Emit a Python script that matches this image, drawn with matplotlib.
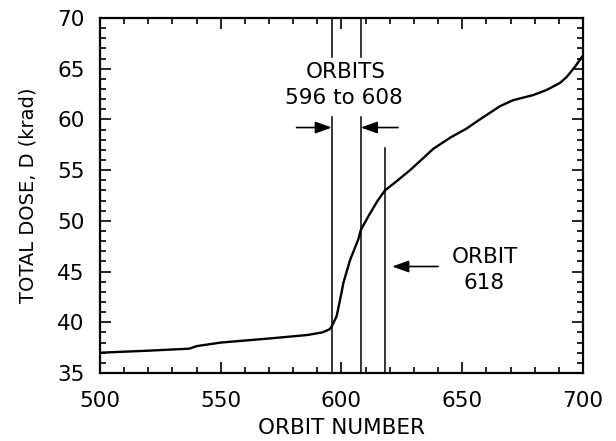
import matplotlib
matplotlib.use("Agg")
import matplotlib.pyplot as plt
from matplotlib.ticker import MultipleLocator

plt.rcParams['font.family'] = ['DejaVu Sans']

orbit = [500, 520, 537, 540, 550, 570, 586, 592, 595, 596, 598, 600, 600.8,
         603.5, 607, 608, 611.5, 615, 618, 622.8, 628.4, 633, 638, 645,
         651.8, 657.3, 665.6, 671.1, 679.4, 684.9, 690.5, 693.3, 696.7, 698.8, 700]
dose = [37.0, 37.2, 37.4, 37.65, 38.0, 38.4, 38.75, 39.0, 39.3, 39.6, 40.6, 42.9, 43.9,
        46.1, 48.2, 49.1, 50.6, 52.0, 53.0, 53.9, 55.0, 56.0, 57.1, 58.2,
        59.1, 60.0, 61.3, 61.9, 62.4, 62.9, 63.6, 64.2, 65.2, 65.9, 66.3]

band_orbits = [596, 608]
single_orbit = 618

fig = plt.figure(figsize=(6.16, 4.41), dpi=100)
ax = fig.add_axes([0.1623, 0.1542, 0.7841, 0.805])

ax.plot(orbit, dose, color='black', lw=1.7)

for xo in band_orbits:
    ax.plot([xo, xo], [35, 60.2], color='black', lw=1.1)
    ax.plot([xo, xo], [66.2, 70], color='black', lw=1.1)
ax.plot([single_orbit, single_orbit], [35, 57.2], color='black', lw=1.1)

akw = dict(arrowstyle='-|>,head_length=1.0,head_width=0.36', color='black', lw=1.2,
           shrinkA=0, shrinkB=0)
ax.annotate('', xy=(band_orbits[0], 59.2), xytext=(581.4, 59.2), arrowprops=akw)
ax.annotate('', xy=(band_orbits[1], 59.2), xytext=(623.4, 59.2), arrowprops=akw)
ax.annotate('', xy=(621, 45.5), xytext=(640, 45.5), arrowprops=akw)

tkw = dict(ha='center', va='center', fontsize=15.5)
ax.text(601.7, 64.65, 'ORBITS', **tkw)
ax.text(601.0, 62.1, '596 to 608', **tkw)
ax.text(659.4, 46.47, 'ORBIT', **tkw)
ax.text(659.0, 43.9, '618', **tkw)

ax.set_xlim(500, 700)
ax.set_ylim(35, 70)
ax.xaxis.set_major_locator(MultipleLocator(50))
ax.xaxis.set_minor_locator(MultipleLocator(10))
ax.yaxis.set_major_locator(MultipleLocator(5))
ax.yaxis.set_minor_locator(MultipleLocator(1))
ax.tick_params(which='both', direction='in', top=True, right=True, width=1.2)
ax.tick_params(which='major', length=8, labelsize=15.5)
ax.tick_params(which='minor', length=4)
ax.tick_params(axis='x', which='major', pad=13)
ax.tick_params(axis='y', which='major', pad=11)
for s in ax.spines.values():
    s.set_linewidth(1.6)

ax.set_xlabel('ORBIT NUMBER', fontsize=15.5, labelpad=5)
ax.set_ylabel('TOTAL DOSE, D (krad)', fontsize=14, labelpad=14)

fig.savefig('out.png', dpi=100)
